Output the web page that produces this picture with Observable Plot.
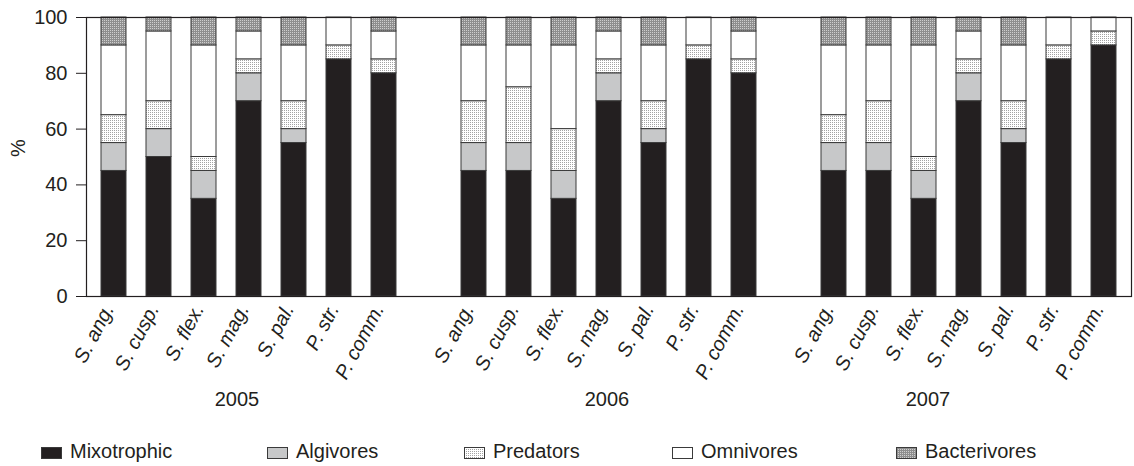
<!DOCTYPE html>
<html>
<head>
<meta charset="utf-8">
<script src="https://cdn.jsdelivr.net/npm/d3@7"></script>
<script src="https://cdn.jsdelivr.net/npm/@observablehq/plot@0.6"></script>
<style>
  body { margin: 0; background: #fff; font-family: "Liberation Sans", Arial, sans-serif; }
  #chart { position: relative; width: 1134px; height: 466px; }
  #legend { position: absolute; left: 0; top: 425px; }
</style>
</head>
<body>
<div id="chart"></div>
<script>
// Feeding-type composition (%) of each ciliate taxon, by year
const years = ["2005", "2006", "2007"];
const species = ["S. ang.", "S. cusp.", "S. flex.", "S. mag.", "S. pal.", "P. str.", "P. comm."];
const groups = ["Mixotrophic", "Algivores", "Predators", "Omnivores", "Bacterivores"];

// one value per species, years in order 2005, 2006, 2007
const mixotrophic  = [45, 50, 35, 70, 55, 85, 80,   45, 45, 35, 70, 55, 85, 80,   45, 45, 35, 70, 55, 85, 90];
const algivores    = [10, 10, 10, 10,  5,  0,  0,   10, 10, 10, 10,  5,  0,  0,   10, 10, 10, 10,  5,  0,  0];
const predators    = [10, 10,  5,  5, 10,  5,  5,   15, 20, 15,  5, 10,  5,  5,   10, 15,  5,  5, 10,  5,  5];
const omnivores    = [25, 25, 40, 10, 20, 10, 10,   20, 15, 30, 10, 20, 10, 10,   25, 20, 40, 10, 20, 10,  5];
const bacterivores = [10,  5, 10,  5, 10,  0,  5,   10, 10, 10,  5, 10,  0,  5,   10, 10, 10,  5, 10,  0,  0];

const yTicks = [0, 20, 40, 60, 80, 100];

const seriesByGroup = [mixotrophic, algivores, predators, omnivores, bacterivores];
const fills = ["#231f20", "#c7c8c9", "url(#pat-pred)", "#ffffff", "url(#pat-bact)"];

// x slots: seven taxa per year with an empty slot between years
const slotKey = (y, s) => `${y}|${s}`;
const slots = [];
years.forEach((y, i) => {
  if (i > 0) slots.push(`gap|${y}`);
  species.forEach(s => slots.push(slotKey(y, s)));
});
const taxonSlots = slots.filter(d => !d.startsWith("gap"));

const rows = [];
years.forEach((y, yi) => {
  species.forEach((s, si) => {
    groups.forEach((g, gi) => {
      rows.push({slot: slotKey(y, s), year: y, species: s, group: g, value: seriesByGroup[gi][yi * species.length + si]});
    });
  });
});

const font = "'Liberation Sans', Arial, Helvetica, sans-serif";
const ink = "#231f20";

const yearText = (year, taxon, dx) => Plot.text([year], {
  x: () => slotKey(year, taxon), text: d => d, frameAnchor: "bottom",
  dy: 109, dx, fontSize: 20, fill: ink
});

const svg = Plot.plot({
  width: 1134,
  height: 425,
  marginLeft: 86,
  marginRight: 3,
  marginTop: 17,
  marginBottom: 129,
  style: {fontFamily: font, fontSize: "20px", color: ink, background: "#fff"},
  x: {domain: slots, paddingInner: 0.45, paddingOuter: 0.24, axis: null},
  y: {domain: [0, 100], axis: null},
  color: {domain: groups, range: fills},
  marks: [
    Plot.barY(rows.filter(d => d.value > 0), {
      x: "slot", y: "value", fill: "group", order: groups,
      stroke: "#3a3a3a", strokeWidth: 1
    }),
    Plot.frame({stroke: ink, strokeWidth: 1.2}),
    Plot.axisY({ticks: yTicks, tickSize: 10, tickPadding: 9, fontSize: 20, label: null, stroke: ink}),
    Plot.axisX({
      ticks: taxonSlots, tickFormat: d => d.split("|")[1], tickRotate: -62,
      tickSize: 0, tickPadding: 9, dx: -5, fontSize: 20, fontStyle: "italic", label: null
    }),
    Plot.text(["%"], {text: d => d, frameAnchor: "left", rotate: -90, dx: -68, fontSize: 20, fill: ink}),
    yearText("2005", "S. mag.", -12),
    yearText("2006", "S. mag.", -2),
    yearText("2007", "S. flex.", 4)
  ]
});

// fill patterns for the stippled categories
d3.select(svg).insert("defs", ":first-child").html(`
  <pattern id="pat-pred" width="2" height="2" patternUnits="userSpaceOnUse">
    <rect width="2" height="2" fill="#ffffff"/>
    <rect width="1" height="1" fill="#a3a3a3"/>
  </pattern>
  <pattern id="pat-bact" width="2" height="2" patternUnits="userSpaceOnUse">
    <rect width="2" height="2" fill="#8e8e8e"/>
    <rect width="1" height="1" fill="#cfcfcf"/>
  </pattern>`);

const chart = document.getElementById("chart");
chart.appendChild(svg);

// legend below the plot
const legendX = [41, 267, 464, 672, 896];
const legend = d3.select(chart).append("svg")
  .attr("id", "legend").attr("width", 1134).attr("height", 41)
  .style("font-family", font);
const item = legend.selectAll("g").data(groups).join("g")
  .attr("transform", (d, i) => `translate(${legendX[i]},0)`);
item.append("rect")
  .attr("x", 0.5).attr("y", 22.5).attr("width", 20).attr("height", 11)
  .attr("fill", (d, i) => fills[i]).attr("stroke", "#3a3a3a");
item.append("text")
  .attr("x", 29).attr("y", 33).attr("font-size", 20).attr("fill", ink)
  .text(d => d);
</script>
</body>
</html>
